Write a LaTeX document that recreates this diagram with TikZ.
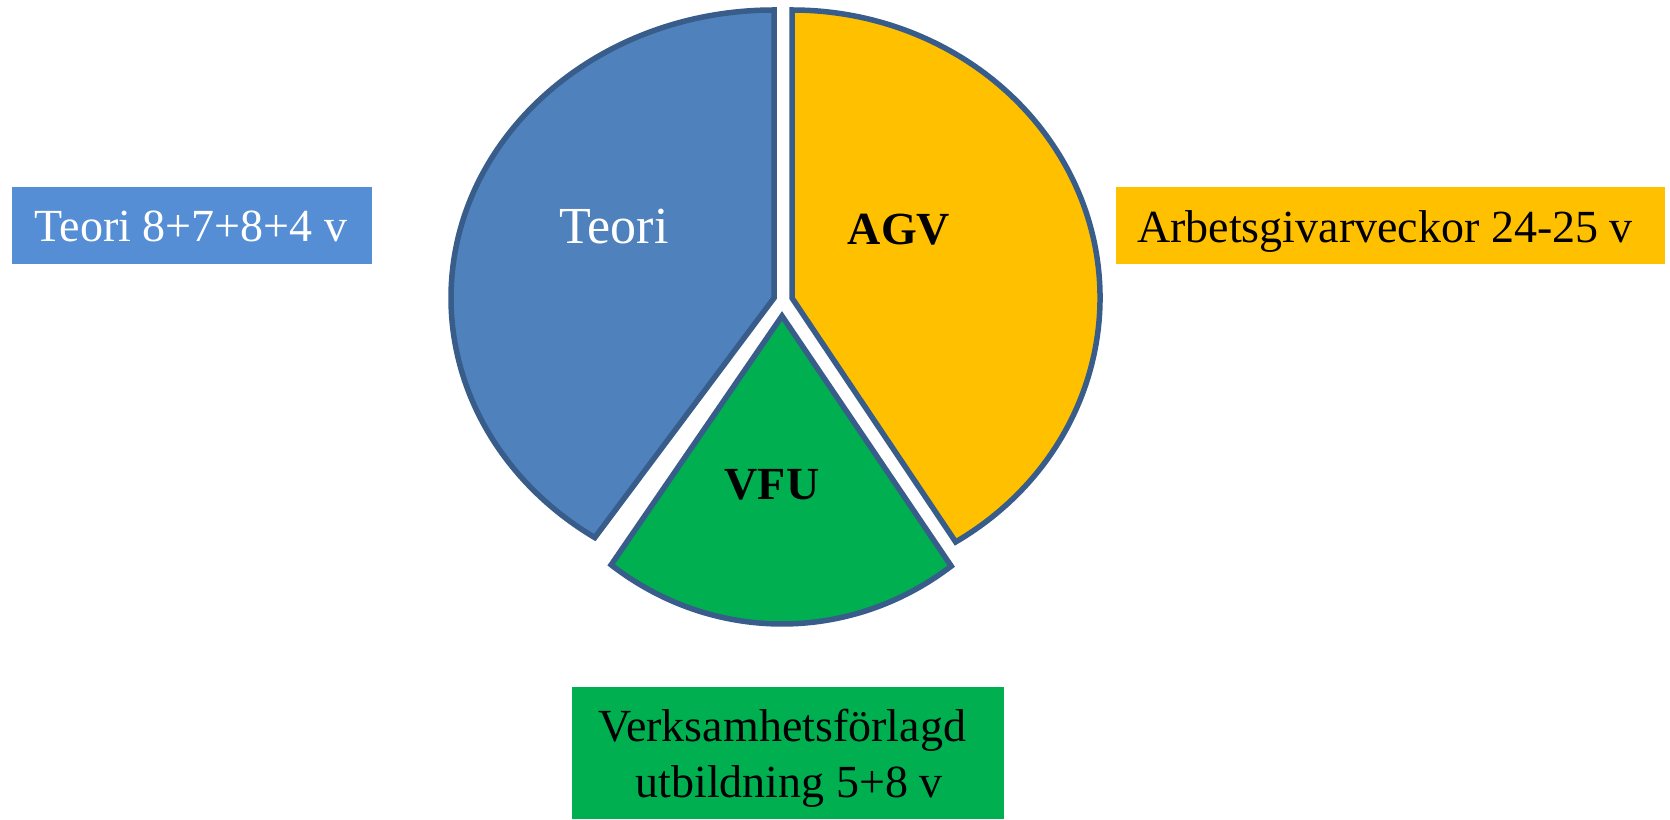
\documentclass[tikz,border=0pt]{standalone}
\usepackage{fontspec}
\setmainfont{Liberation Serif}
\definecolor{teoriblue}{HTML}{4F81BD}
\definecolor{boxblue}{HTML}{558ED5}
\definecolor{agvorange}{HTML}{FFC000}
\definecolor{vfugreen}{HTML}{00B050}
\definecolor{edgeblue}{HTML}{385D8A}
\begin{document}
\begin{tikzpicture}[x=1pt,y=1pt,
  slice/.style={draw=edgeblue,line width=5.5pt,line join=miter},
  lab/.style={font=\fontsize{46}{57}\selectfont,anchor=base,inner sep=0pt},
  legendbox/.style={anchor=south west,inner sep=0pt,outer sep=0pt,draw=none},
  ]
\useasboundingbox (0,0) rectangle (1670,819);
% pie slices
\coordinate (tc) at (774,521);
\coordinate (ac) at (792,521);
\coordinate (vc) at (782,503);
\draw[slice,fill=teoriblue] (tc) -- ++(90:323pt and 288pt)
  arc[start angle=90,end angle=236.3,x radius=323pt,y radius=288pt] -- cycle;
\draw[slice,fill=agvorange] (ac) -- ++(-57.9:308pt and 288pt)
  arc[start angle=-57.9,end angle=90,x radius=308pt,y radius=288pt] -- cycle;
\draw[slice,fill=vfugreen] (vc) -- ++(233.9:290pt and 308pt)
  arc[start angle=233.9,end angle=305.7,x radius=290pt,y radius=308pt] -- cycle;
% slice labels
\node[lab,text=white,font=\fontsize{52}{60}\selectfont] (lteori) at (614,575) {Teori};
\node[lab,font=\fontsize{46}{57}\selectfont\bfseries] (lagv) at (899,574) {AGV};
\node[lab,font=\fontsize{46}{57}\selectfont\bfseries] (lvfu) at (772,319) {VFU};
% legend boxes
\node[legendbox,fill=boxblue,minimum width=360pt,minimum height=77pt] (bteori) at (12,555) {};
\node[lab,text=white] (tteori) at (191,577) {Teori 8+7+8+4 v};
\node[legendbox,fill=agvorange,minimum width=549pt,minimum height=77pt] (bagv) at (1116,555) {};
\node[lab,anchor=base west] (tagv) at (1137,576) {Arbetsgivarveckor 24-25 v};
\node[legendbox,fill=vfugreen,minimum width=432pt,minimum height=132pt] (bvfu) at (572,0) {};
\node[lab] (tvfu1) at (782,77) {Verksamhetsförlagd};
\node[lab] (tvfu2) at (789,21) {utbildning 5+8 v};
\end{tikzpicture}
\end{document}
